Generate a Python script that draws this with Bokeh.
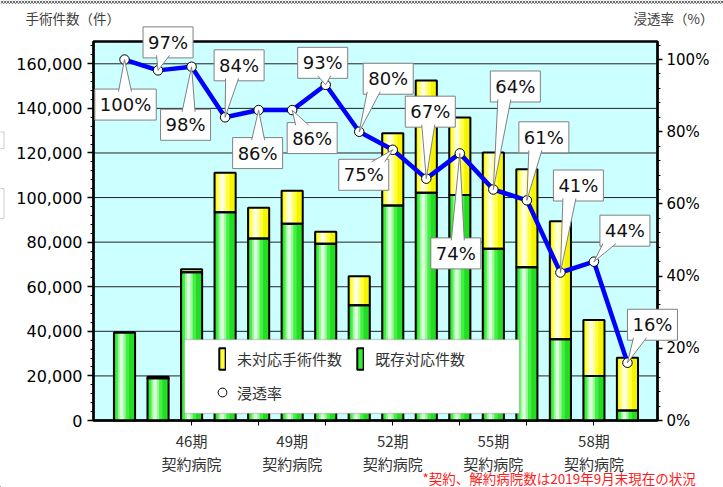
from bokeh.plotting import figure
from bokeh.models import (Range1d, LinearAxis, FixedTicker, SingleIntervalTicker,
                          NumeralTickFormatter, PrintfTickFormatter, Label,
                          Legend, LegendItem, BoxAnnotation)
from bokeh.embed import file_html
from bokeh.resources import INLINE

# ---- data -------------------------------------------------------------
periods = list(range(44, 60))                       # 契約病院の期
existing = [39500, 19000, 66500, 93400, 81600, 88300, 79300, 51700,
            96400, 102200, 101200, 77000, 68700, 36500, 20000, 4500]   # 既存対応件数
unmet = [0, 600, 1300, 17700, 13800, 14700, 5400, 13000,
         32400, 50300, 34700, 43200, 44000, 52900, 25100, 23600]      # 未対応手術件数
rate = [100, 97, 98, 84, 86, 86, 93, 80, 75, 67, 74, 64, 61, 41, 44, 16]  # 浸透率 (%)
tick_periods = [46, 49, 52, 55, 58]
tick_labels = [f"{n}期\n契約病院" for n in tick_periods]

# callout placement relative to each point (px, +y is downward)
callout_dx = [1, 10, -6, 14, -1, 20, -3, 29, -29, 4, -4, 22, 17, 18, 31, 25]
callout_dy = [45, -28, 58, -52, 43, 28, -22, -53, 25, -67, 100, -103, -63, -87, -31, -38]

# ---- geometry -----------------------------------------------------------
# The frame spans the whole canvas; the plot area is drawn inside it and the
# axes are pinned to the plot-area edges with fixed_location.
W, H = 723, 487
PL, PR, PT, PB = 93, 657, 41, 420          # plot-area edges on the canvas
X0, X1 = 43.075, 59.896                    # category span of the plot area
Y1 = 170000                                # count axis maximum
P1 = 105                                   # percentage axis maximum
px_x = (PR - PL) / (X1 - X0)
px_y = (PB - PT) / Y1
px_p = (PB - PT) / P1
XS, XE = X0 - PL / px_x, X1 + (W - PR) / px_x
YS, YE = -(H - PB) / px_y, Y1 + PT / px_y
PS, PE = -(H - PB) / px_p, P1 + PT / px_p


def cx(v):
    return XS + v / px_x


def cy(v):
    return (PB - v) / px_y


NUM_FONT = "DejaVu Sans"
JP_FONT = "Noto Sans CJK JP"

p = figure(width=W, height=H, x_range=Range1d(XS, XE), y_range=Range1d(YS, YE),
           title=None, output_backend="svg", toolbar_location=None, min_border=0,
           background_fill_color="white", border_fill_color="white")
p.extra_y_ranges = {"pct": Range1d(PS, PE)}
p.outline_line_color = None
p.grid.visible = False

# plot area and horizontal gridlines
p.quad(left=X0, right=X1, bottom=0, top=Y1, fill_color="#CCFFFF",
       line_color="black", line_width=2.5, level="underlay")
grid_vals = list(range(20000, Y1, 20000))
p.segment(x0=X0, x1=X1, y0=grid_vals, y1=grid_vals, line_color="#222222",
          line_width=1, level="underlay")

# left axis
ya = p.yaxis[0]
ya.fixed_location = X0
ya.bounds = (0, Y1)
ya.ticker = SingleIntervalTicker(interval=20000, num_minor_ticks=5)
ya.formatter = NumeralTickFormatter(format="0,0")
ya.axis_line_color = "black"
ya.axis_line_width = 2
ya.major_tick_out = 6
ya.major_tick_in = 0
ya.minor_tick_out = 3
ya.minor_tick_in = 0
ya.major_tick_line_width = 1.5
ya.major_label_standoff = 5
ya.major_label_text_font = NUM_FONT
ya.major_label_text_font_size = "16px"
ya.major_label_text_color = "black"

# right axis
ra = LinearAxis(y_range_name="pct", fixed_location=X1, bounds=(0, P1),
                ticker=SingleIntervalTicker(interval=20, num_minor_ticks=5),
                formatter=PrintfTickFormatter(format="%d%%"))
ra.axis_line_color = "black"
ra.axis_line_width = 2
ra.major_tick_out = 5
ra.major_tick_in = 0
ra.minor_tick_out = 3
ra.minor_tick_in = 0
ra.major_tick_line_width = 1.5
ra.major_label_standoff = 4
ra.major_label_text_font = NUM_FONT
ra.major_label_text_font_size = "15px"
ra.major_label_text_color = "black"
p.add_layout(ra, "right")

# bottom axis
xa = p.xaxis[0]
xa.fixed_location = 0
xa.bounds = (X0, X1)
xa.ticker = FixedTicker(ticks=tick_periods, minor_ticks=list(range(46, 59, 2)))
xa.major_label_overrides = {t: lab for t, lab in zip(tick_periods, tick_labels)}
xa.axis_line_color = "black"
xa.axis_line_width = 2
xa.major_tick_out = 0
xa.major_tick_in = 0
xa.minor_tick_out = 5
xa.minor_tick_in = 0
xa.major_label_standoff = 4
xa.major_label_text_font = JP_FONT
xa.major_label_text_font_size = "15px"
xa.major_label_text_color = "#333333"
xa.major_label_text_line_height = 1.1

# ---- stacked bars with a cylinder-like shading --------------------------
BW = 0.63
total = [e + u for e, u in zip(existing, unmet)]
shade_green = [("#22DD22", 1.0, 0.0), ("#44F044", 0.62, -0.10),
               ("#99FA99", 0.36, -0.13), ("#DDFFDD", 0.16, -0.14)]
shade_yellow = [("#F5F500", 1.0, 0.0), ("#FFFF44", 0.62, -0.10),
                ("#FFFF99", 0.36, -0.13), ("#FFFFE6", 0.16, -0.14)]
for col, frac, off in shade_green:
    p.vbar(x=[x + off * BW for x in periods], bottom=0, top=existing,
           width=BW * frac, fill_color=col, line_color=None)
for col, frac, off in shade_yellow:
    p.vbar(x=[x + off * BW for x in periods], bottom=existing, top=total,
           width=BW * frac, fill_color=col, line_color=None)
p.vbar(x=periods, bottom=0, top=existing, width=BW, fill_alpha=0,
       line_color="black", line_width=2)
p.vbar(x=periods, bottom=existing, top=total, width=BW, fill_alpha=0,
       line_color="black", line_width=2)

# legend swatches: one bar / marker each, parked well outside the canvas
park_x = [XS - 200]
park_y = [YS - 100000]
sw_unmet = p.vbar(x=park_x, bottom=park_y, top=[park_y[0] + 1000], width=BW,
                  fill_color="#FFFF33", line_color="black", line_width=2)
sw_exist = p.vbar(x=park_x, bottom=park_y, top=[park_y[0] + 1000], width=BW,
                  fill_color="#33EE33", line_color="black", line_width=2)

# ---- penetration rate line ------------------------------------------------
p.line(periods, rate, y_range_name="pct", line_color="#0000FF", line_width=4.5)
p.scatter(periods, rate, y_range_name="pct", size=9.5, marker="circle",
          fill_color="white", line_color="black", line_width=1)
sw_rate = p.scatter(x=park_x, y=park_y, size=9, marker="circle",
                    fill_color="white", line_color="black", line_width=1)

# ---- callouts -------------------------------------------------------------
PAD = 5
tail_xs, tail_ys, side_xs, side_ys = [], [], [], []
for x, r, ox, oy in zip(periods, rate, callout_dx, callout_dy):
    txt = f"{r}%"
    tw = 11.45 * (len(txt) - 1) + 17.1
    hw, hh = tw / 2 + PAD, 15
    p.add_layout(Label(x=x, y=r, y_range_name="pct", x_offset=ox, y_offset=-oy,
                       text=txt, text_align="center", text_baseline="middle",
                       text_font=NUM_FONT, text_font_size="18px",
                       text_color="#111111", background_fill_color="white",
                       border_line_color="#808080", border_line_width=1,
                       padding=PAD))
    tx, ty = -ox, -oy
    if abs(ty) / hh >= abs(tx) / hw:
        s = 1 if ty > 0 else -1
        ey = oy + s * hh - s * 2
        bc = ox + max(-(hw - 8), min(hw - 8, 0.5 * tx))
        b1, b2 = (bc - 6.5, ey), (bc + 6.5, ey)
    else:
        s = 1 if tx > 0 else -1
        ex = ox + s * hw - s * 2
        bc = oy + max(-(hh - 7), min(hh - 7, 0.5 * ty))
        b1, b2 = (ex, bc - 5), (ex, bc + 5)
    to_x = lambda v: x + v / px_x
    to_y = lambda v: r - v / px_p
    tail_xs.append([x, to_x(b1[0]), to_x(b2[0])])
    tail_ys.append([r, to_y(b1[1]), to_y(b2[1])])
    side_xs += [[x, to_x(b1[0])], [x, to_x(b2[0])]]
    side_ys += [[r, to_y(b1[1])], [r, to_y(b2[1])]]

p.patches(tail_xs, tail_ys, y_range_name="pct", fill_color="white",
          line_color=None, level="overlay")
p.multi_line(side_xs, side_ys, y_range_name="pct", line_color="#808080",
             line_width=1, level="overlay")

# ---- legend -----------------------------------------------------------------
p.add_layout(BoxAnnotation(left=cx(184), right=cx(519), top=cy(339),
                           bottom=cy(413), fill_color="white", fill_alpha=1,
                           line_color="#6e6e6e", line_width=1.5, level="annotation"))
legend_style = dict(padding=0, margin=0, label_text_font=JP_FONT,
                    label_text_font_size="15px", label_text_color="#333333",
                    background_fill_alpha=0, border_line_alpha=0)
bars_legend = Legend(items=[LegendItem(label="未対応手術件数", renderers=[sw_unmet]),
                            LegendItem(label="既存対応件数", renderers=[sw_exist])],
                     orientation="horizontal", location=(218, H - 372),
                     spacing=7, glyph_width=8, glyph_height=27, label_standoff=11,
                     label_width=112, **legend_style)
rate_legend = Legend(items=[LegendItem(label="浸透率", renderers=[sw_rate])],
                     location=(211, H - 403), glyph_width=22, glyph_height=22,
                     label_standoff=4, **legend_style)
p.add_layout(bars_legend)
p.add_layout(rate_legend)

# ---- titles and note ----------------------------------------------------------
p.add_layout(Label(x=cx(25), y=cy(17), text="手術件数（件）", text_align="left",
                   text_baseline="middle", text_font=JP_FONT,
                   text_font_size="13.5px", text_color="#404040"))
p.add_layout(Label(x=cx(713), y=cy(17), text="浸透率（%）", text_align="right",
                   text_baseline="middle", text_font=JP_FONT,
                   text_font_size="13.5px", text_color="#404040"))
p.add_layout(Label(x=cx(422), y=cy(477), text="*契約、解約病院数は2019年9月末現在の状況",
                   text_align="left", text_baseline="middle", text_font=JP_FONT,
                   text_font_size="13.5px", text_color="#FF1A1A"))

# dotted frame edge along the top of the page and two boxes cut by the left edge
p.add_layout(BoxAnnotation(left=cx(0), right=cx(W), top=cy(0), bottom=cy(3.5),
                           fill_color="#c8c8c8", line_color=None, hatch_pattern="x",
                           hatch_color="#707070", hatch_scale=3, hatch_weight=1))
for top_px, bot_px in [(131.5, 148), (188, 218)]:
    p.add_layout(BoxAnnotation(left=cx(-20), right=cx(3.5), top=cy(top_px),
                               bottom=cy(bot_px), fill_color="white",
                               line_color="#555555", line_width=1))

open("out.html", "w").write(file_html(p, INLINE))
